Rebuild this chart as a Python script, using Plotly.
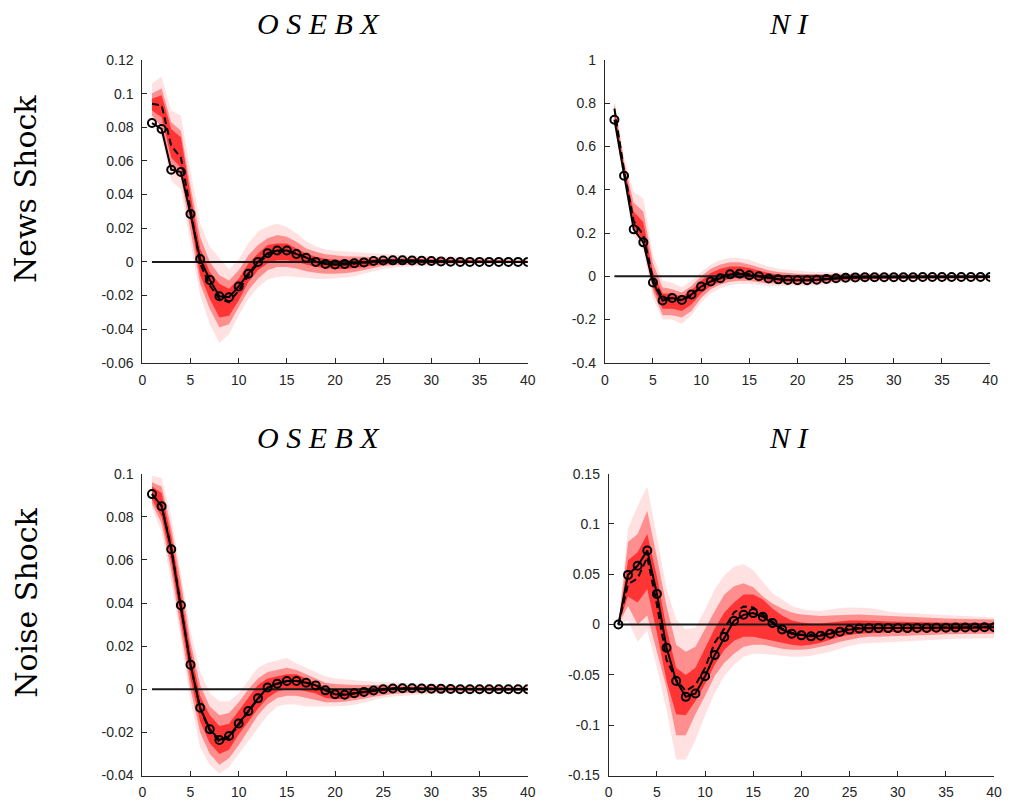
import plotly.graph_objects as go

horizons = list(range(1, 41))

# ---------------- OSEBX, news shock ----------------
on_solid = [0.0825, 0.0790, 0.0548, 0.0534, 0.0285, 0.0017, -0.0107, -0.0204, -0.0210, -0.0146,
            -0.0070, 0.0000, 0.0052, 0.0068, 0.0068, 0.0047, 0.0025, 0.0000, -0.0012, -0.0015,
            -0.0013, -0.0008, -0.0003, 0.0005, 0.0008, 0.0009, 0.0009, 0.0008, 0.0007, 0.0005,
            0.0003, 0.0001, 0.0000, 0.0000, 0.0000, 0.0000, 0.0000, 0.0000, 0.0000, 0.0000]
on_dash = [0.0940, 0.0930, 0.0690, 0.0620, 0.0310, -0.0010, -0.0140, -0.0220, -0.0240, -0.0170,
           -0.0080, -0.0010, 0.0040, 0.0060, 0.0065, 0.0050, 0.0028, 0.0005, -0.0010, -0.0015,
           -0.0015, -0.0011, -0.0005, 0.0002, 0.0006, 0.0008, 0.0008, 0.0008, 0.0007, 0.0006,
           0.0004, 0.0002, 0.0001, 0.0000, 0.0000, 0.0000, 0.0000, 0.0000, 0.0000, 0.0000]
on_u95 = [0.106, 0.110, 0.090, 0.087, 0.054, 0.023, 0.009, 0.002, -0.0045, 0.0015,
          0.011, 0.018, 0.021, 0.0227, 0.0207, 0.0169, 0.0122, 0.0093, 0.0074, 0.0066,
          0.0062, 0.0058, 0.0055, 0.005, 0.0045, 0.0042, 0.004, 0.0037, 0.0035, 0.0033,
          0.003, 0.0028, 0.0025, 0.0022, 0.002, 0.0018, 0.0017, 0.0016, 0.0015, 0.0014]
on_l95 = [0.085, 0.074, 0.048, 0.043, 0.012, -0.020, -0.037, -0.048, -0.043, -0.032,
          -0.022, -0.015, -0.0105, -0.0088, -0.0085, -0.009, -0.0095, -0.0100, -0.0102, -0.0100,
          -0.0095, -0.0085, -0.0070, -0.0055, -0.0042, -0.0035, -0.0030, -0.0027, -0.0024, -0.0021,
          -0.0019, -0.0017, -0.0015, -0.0014, -0.0013, -0.0012, -0.0011, -0.0010, -0.0010, -0.0010]
on_u90 = [0.100, 0.103, 0.083, 0.078, 0.045, 0.015, 0.000, -0.008, -0.011, -0.005,
          0.004, 0.010, 0.014, 0.016, 0.015, 0.012, 0.008, 0.006, 0.0045, 0.0038,
          0.0034, 0.0032, 0.003, 0.0029, 0.0028, 0.0027, 0.0025, 0.0023, 0.0021, 0.002,
          0.0018, 0.0016, 0.0014, 0.0013, 0.0012, 0.0011, 0.001, 0.0009, 0.0009, 0.0008]
on_l90 = [0.087, 0.080, 0.055, 0.050, 0.019, -0.013, -0.028, -0.039, -0.037, -0.027,
          -0.017, -0.010, -0.005, -0.003, -0.003, -0.004, -0.0055, -0.0065, -0.007, -0.007,
          -0.0068, -0.006, -0.0048, -0.0035, -0.0025, -0.002, -0.0017, -0.0015, -0.0013, -0.0012,
          -0.0011, -0.001, -0.0009, -0.0008, -0.0008, -0.0007, -0.0007, -0.0006, -0.0006, -0.0006]
on_u68 = [0.097, 0.099, 0.079, 0.074, 0.040, 0.008, -0.006, -0.013, -0.016, -0.010,
          -0.001, 0.005, 0.010, 0.011, 0.011, 0.008, 0.005, 0.003, 0.0018, 0.0012,
          0.001, 0.0011, 0.0014, 0.0017, 0.0019, 0.0019, 0.0018, 0.0017, 0.0015, 0.0013,
          0.0012, 0.001, 0.0009, 0.0008, 0.0007, 0.0006, 0.0006, 0.0005, 0.0005, 0.0005]
on_l68 = [0.090, 0.086, 0.062, 0.056, 0.025, -0.008, -0.022, -0.033, -0.032, -0.023,
          -0.012, -0.005, -0.001, 0.001, 0.001, 0.000, -0.0015, -0.003, -0.0038, -0.0042,
          -0.0042, -0.0038, -0.003, -0.002, -0.0013, -0.0009, -0.0007, -0.0006, -0.0005, -0.0005,
          -0.0005, -0.0004, -0.0004, -0.0004, -0.0004, -0.0003, -0.0003, -0.0003, -0.0003, -0.0003]

# ---------------- NI, news shock ----------------
nn_solid = [0.724, 0.465, 0.217, 0.157, -0.029, -0.112, -0.100, -0.109, -0.084, -0.047,
            -0.024, -0.009, 0.009, 0.012, 0.005, 0.000, -0.010, -0.014, -0.017, -0.018,
            -0.018, -0.016, -0.012, -0.009, -0.007, -0.005, -0.004, -0.004, -0.004, -0.004,
            -0.004, -0.004, -0.003, -0.003, -0.003, -0.003, -0.003, -0.003, -0.003, -0.003]
nn_dash = [0.775, 0.490, 0.255, 0.190, -0.010, -0.100, -0.100, -0.112, -0.088, -0.050,
           -0.020, 0.000, 0.012, 0.018, 0.010, 0.002, -0.008, -0.013, -0.016, -0.018,
           -0.018, -0.016, -0.012, -0.009, -0.007, -0.005, -0.004, -0.004, -0.004, -0.004,
           -0.004, -0.003, -0.003, -0.003, -0.003, -0.003, -0.003, -0.003, -0.003, -0.003]
nn_u95 = [0.820, 0.550, 0.390, 0.360, 0.100, -0.020, -0.030, -0.050, -0.020, 0.020,
          0.055, 0.075, 0.085, 0.085, 0.075, 0.060, 0.045, 0.035, 0.030, 0.025,
          0.022, 0.020, 0.019, 0.018, 0.017, 0.016, 0.015, 0.014, 0.013, 0.012,
          0.012, 0.011, 0.010, 0.010, 0.009, 0.009, 0.008, 0.008, 0.008, 0.008]
nn_l95 = [0.700, 0.440, 0.190, 0.120, -0.100, -0.200, -0.200, -0.220, -0.180, -0.120,
          -0.080, -0.055, -0.040, -0.035, -0.035, -0.040, -0.045, -0.045, -0.045, -0.045,
          -0.044, -0.042, -0.038, -0.033, -0.028, -0.025, -0.022, -0.020, -0.019, -0.018,
          -0.017, -0.016, -0.016, -0.015, -0.015, -0.015, -0.014, -0.014, -0.014, -0.014]
nn_u90 = [0.800, 0.530, 0.340, 0.300, 0.060, -0.050, -0.060, -0.075, -0.045, 0.000,
          0.035, 0.055, 0.065, 0.065, 0.055, 0.040, 0.028, 0.020, 0.015, 0.012,
          0.011, 0.010, 0.010, 0.010, 0.010, 0.009, 0.009, 0.008, 0.008, 0.007,
          0.007, 0.007, 0.006, 0.006, 0.006, 0.005, 0.005, 0.005, 0.005, 0.005]
nn_l90 = [0.720, 0.460, 0.210, 0.145, -0.070, -0.180, -0.180, -0.190, -0.160, -0.100,
          -0.060, -0.038, -0.025, -0.020, -0.022, -0.028, -0.032, -0.035, -0.035, -0.035,
          -0.034, -0.032, -0.029, -0.025, -0.021, -0.018, -0.016, -0.015, -0.014, -0.013,
          -0.013, -0.012, -0.012, -0.011, -0.011, -0.011, -0.011, -0.010, -0.010, -0.010]
nn_u68 = [0.780, 0.510, 0.300, 0.250, 0.020, -0.080, -0.080, -0.095, -0.065, -0.020,
          0.015, 0.035, 0.045, 0.045, 0.038, 0.025, 0.015, 0.008, 0.004, 0.002,
          0.002, 0.002, 0.003, 0.003, 0.003, 0.003, 0.003, 0.002, 0.002, 0.002,
          0.002, 0.002, 0.001, 0.001, 0.001, 0.001, 0.001, 0.001, 0.001, 0.001]
nn_l68 = [0.740, 0.480, 0.230, 0.165, -0.050, -0.150, -0.150, -0.160, -0.130, -0.080,
          -0.045, -0.025, -0.010, -0.008, -0.010, -0.015, -0.022, -0.026, -0.028, -0.028,
          -0.027, -0.025, -0.022, -0.019, -0.016, -0.013, -0.012, -0.011, -0.010, -0.010,
          -0.009, -0.009, -0.008, -0.008, -0.008, -0.008, -0.007, -0.007, -0.007, -0.007]

# ---------------- OSEBX, noise shock ----------------
oo_solid = [0.0905, 0.0849, 0.0649, 0.0390, 0.0114, -0.0086, -0.0185, -0.0235, -0.0217, -0.0159,
            -0.0101, -0.0042, 0.0008, 0.0026, 0.0038, 0.0038, 0.0030, 0.0018, -0.0005, -0.0023,
            -0.0025, -0.0018, -0.0012, -0.0006, 0.0000, 0.0004, 0.0005, 0.0005, 0.0004, 0.0003,
            0.0002, 0.0001, 0.0000, 0.0000, 0.0000, 0.0000, 0.0000, 0.0000, 0.0000, 0.0000]
oo_dash = [0.0905, 0.0852, 0.0655, 0.0395, 0.0115, -0.0090, -0.0192, -0.0242, -0.0225, -0.0165,
           -0.0105, -0.0045, 0.0007, 0.0026, 0.0038, 0.0039, 0.0031, 0.0018, -0.0004, -0.0022,
           -0.0024, -0.0018, -0.0012, -0.0006, 0.0000, 0.0004, 0.0005, 0.0005, 0.0004, 0.0003,
           0.0002, 0.0001, 0.0000, 0.0000, 0.0000, 0.0000, 0.0000, 0.0000, 0.0000, 0.0000]
oo_u95 = [0.099, 0.098, 0.080, 0.054, 0.027, 0.008, -0.002, -0.0055, -0.0055, -0.002,
          0.004, 0.010, 0.0123, 0.0135, 0.0145, 0.012, 0.010, 0.008, 0.006, 0.005,
          0.0045, 0.004, 0.0038, 0.0035, 0.0033, 0.003, 0.0028, 0.0026, 0.0024, 0.0022,
          0.002, 0.0019, 0.0018, 0.0017, 0.0016, 0.0015, 0.0014, 0.0013, 0.0012, 0.0012]
oo_l95 = [0.084, 0.073, 0.050, 0.023, -0.005, -0.027, -0.035, -0.039, -0.036, -0.030,
          -0.024, -0.018, -0.012, -0.008, -0.007, -0.007, -0.008, -0.008, -0.008, -0.008,
          -0.0078, -0.0072, -0.0062, -0.005, -0.004, -0.0034, -0.003, -0.0027, -0.0024, -0.0022,
          -0.002, -0.0018, -0.0016, -0.0015, -0.0014, -0.0013, -0.0012, -0.0011, -0.001, -0.001]
oo_u90 = [0.096, 0.094, 0.075, 0.050, 0.022, 0.002, -0.008, -0.012, -0.011, -0.006,
          0.000, 0.005, 0.008, 0.009, 0.010, 0.009, 0.007, 0.005, 0.003, 0.0025,
          0.0022, 0.002, 0.002, 0.002, 0.002, 0.0019, 0.0018, 0.0017, 0.0016, 0.0015,
          0.0014, 0.0013, 0.0012, 0.0011, 0.001, 0.001, 0.0009, 0.0009, 0.0008, 0.0008]
oo_l90 = [0.086, 0.077, 0.055, 0.028, 0.000, -0.020, -0.030, -0.035, -0.032, -0.026,
          -0.019, -0.012, -0.007, -0.004, -0.003, -0.003, -0.004, -0.005, -0.006, -0.006,
          -0.0058, -0.0052, -0.0044, -0.0035, -0.0027, -0.0022, -0.0018, -0.0016, -0.0014, -0.0013,
          -0.0012, -0.0011, -0.001, -0.0009, -0.0009, -0.0008, -0.0008, -0.0007, -0.0007, -0.0007]
oo_u68 = [0.094, 0.091, 0.071, 0.045, 0.018, -0.003, -0.012, -0.017, -0.016, -0.010,
          -0.004, 0.002, 0.005, 0.006, 0.007, 0.007, 0.005, 0.003, 0.001, 0.000,
          -0.0002, 0.0000, 0.0004, 0.0008, 0.001, 0.0011, 0.0011, 0.001, 0.001, 0.0009,
          0.0008, 0.0007, 0.0006, 0.0006, 0.0005, 0.0005, 0.0004, 0.0004, 0.0004, 0.0004]
oo_l68 = [0.088, 0.080, 0.059, 0.033, 0.005, -0.015, -0.025, -0.030, -0.028, -0.021,
          -0.015, -0.009, -0.004, -0.001, 0.000, 0.000, -0.001, -0.002, -0.004, -0.0045,
          -0.0045, -0.0038, -0.003, -0.002, -0.0012, -0.0006, -0.0003, -0.0002, -0.0002, -0.0002,
          -0.0002, -0.0002, -0.0002, -0.0002, -0.0002, -0.0002, -0.0002, -0.0002, -0.0002, -0.0002]

# ---------------- NI, noise shock ----------------
no_solid = [0.000, 0.0494, 0.0584, 0.0737, 0.0305, -0.0230, -0.0560, -0.0718, -0.0685, -0.0513,
            -0.0302, -0.0124, 0.0039, 0.0097, 0.0114, 0.0078, 0.0016, -0.0049, -0.0091, -0.0107,
            -0.0117, -0.0110, -0.0090, -0.0070, -0.0050, -0.0040, -0.0036, -0.0035, -0.0035, -0.0035,
            -0.0035, -0.0034, -0.0033, -0.0032, -0.0031, -0.0030, -0.0029, -0.0028, -0.0027, -0.0026]
no_dash = [0.000, 0.040, 0.046, 0.067, 0.020, -0.035, -0.055, -0.066, -0.060, -0.043,
           -0.018, -0.004, 0.012, 0.018, 0.017, 0.010, 0.003, -0.004, -0.008, -0.010,
           -0.010, -0.010, -0.008, -0.006, -0.004, -0.0035, -0.0033, -0.0033, -0.0033, -0.0033,
           -0.0033, -0.0032, -0.0031, -0.003, -0.003, -0.0029, -0.0028, -0.0027, -0.0026, -0.0025]
no_u95 = [0.000, 0.095, 0.118, 0.137, 0.087, 0.036, 0.005, -0.005, -0.003, 0.015,
          0.035, 0.049, 0.0575, 0.060, 0.054, 0.043, 0.031, 0.025, 0.0185, 0.0155,
          0.014, 0.0136, 0.015, 0.0165, 0.017, 0.017, 0.0165, 0.015, 0.013, 0.012,
          0.0115, 0.011, 0.0105, 0.0095, 0.009, 0.0085, 0.008, 0.0077, 0.0073, 0.007]
no_l95 = [0.000, 0.004, -0.017, -0.006, -0.043, -0.085, -0.134, -0.134, -0.115, -0.090,
          -0.068, -0.051, -0.040, -0.032, -0.029, -0.029, -0.030, -0.031, -0.032, -0.032,
          -0.031, -0.029, -0.027, -0.024, -0.021, -0.019, -0.018, -0.0175, -0.017, -0.017,
          -0.0165, -0.016, -0.0155, -0.015, -0.0145, -0.014, -0.014, -0.0135, -0.0135, -0.0135]
no_u90 = [0.000, 0.082, 0.090, 0.113, 0.067, 0.0185, -0.020, -0.027, -0.022, -0.004,
          0.0136, 0.030, 0.038, 0.041, 0.037, 0.028, 0.021, 0.016, 0.012, 0.010,
          0.009, 0.0085, 0.009, 0.0095, 0.010, 0.010, 0.0095, 0.009, 0.0085, 0.008,
          0.0075, 0.007, 0.0068, 0.0065, 0.006, 0.0058, 0.0055, 0.0052, 0.005, 0.005]
no_l90 = [0.000, 0.0185, 0.000, 0.009, -0.027, -0.063, -0.110, -0.110, -0.089, -0.071,
          -0.051, -0.038, -0.029, -0.022, -0.020, -0.020, -0.022, -0.024, -0.025, -0.025,
          -0.024, -0.022, -0.020, -0.017, -0.015, -0.013, -0.012, -0.012, -0.0115, -0.011,
          -0.011, -0.0105, -0.010, -0.010, -0.0095, -0.0095, -0.009, -0.009, -0.009, -0.009]
no_u68 = [0.000, 0.064, 0.072, 0.090, 0.048, -0.004, -0.043, -0.050, -0.043, -0.024,
          -0.004, 0.012, 0.022, 0.030, 0.030, 0.025, 0.016, 0.009, 0.004, 0.002,
          0.001, 0.001, 0.002, 0.003, 0.004, 0.004, 0.004, 0.0035, 0.003, 0.003,
          0.0028, 0.0026, 0.0024, 0.0022, 0.002, 0.002, 0.0018, 0.0017, 0.0016, 0.0015]
no_l68 = [0.000, 0.028, 0.022, 0.035, -0.008, -0.056, -0.089, -0.090, -0.076, -0.059,
          -0.040, -0.025, -0.016, -0.012, -0.012, -0.014, -0.016, -0.018, -0.020, -0.021,
          -0.020, -0.018, -0.015, -0.012, -0.010, -0.009, -0.008, -0.008, -0.0075, -0.007,
          -0.007, -0.0068, -0.0066, -0.0064, -0.0062, -0.006, -0.006, -0.0058, -0.0056, -0.0055]

# ---------------- tick definitions ----------------
x_tickvals = [0, 5, 10, 15, 20, 25, 30, 35, 40]
x_ticktext = ["0", "5", "10", "15", "20", "25", "30", "35", "40"]
y1_tickvals = [-0.06, -0.04, -0.02, 0, 0.02, 0.04, 0.06, 0.08, 0.1, 0.12]
y1_ticktext = ["-0.06", "-0.04", "-0.02", "0", "0.02", "0.04", "0.06", "0.08", "0.1", "0.12"]
y2_tickvals = [-0.4, -0.2, 0, 0.2, 0.4, 0.6, 0.8, 1]
y2_ticktext = ["-0.4", "-0.2", "0", "0.2", "0.4", "0.6", "0.8", "1"]
y3_tickvals = [-0.04, -0.02, 0, 0.02, 0.04, 0.06, 0.08, 0.1]
y3_ticktext = ["-0.04", "-0.02", "0", "0.02", "0.04", "0.06", "0.08", "0.1"]
y4_tickvals = [-0.15, -0.1, -0.05, 0, 0.05, 0.1, 0.15]
y4_ticktext = ["-0.15", "-0.1", "-0.05", "0", "0.05", "0.1", "0.15"]

panel_titles = ["O S E B X", "N I", "O S E B X", "N I"]
row_labels = ["News Shock", "Noise Shock"]

LIGHT = "#FFE1E1"
MEDIUM = "#FF8F8F"
DARK = "#FF3535"
AXC = "#262626"

panels = [
    dict(ax="", solid=on_solid, dash=on_dash, bands=[(on_u95, on_l95), (on_u90, on_l90), (on_u68, on_l68)],
         yr=[-0.06, 0.12], tv=y1_tickvals, tt=y1_ticktext, xd=[140, 530], yd=[53, 362]),
    dict(ax="2", solid=nn_solid, dash=nn_dash, bands=[(nn_u95, nn_l95), (nn_u90, nn_l90), (nn_u68, nn_l68)],
         yr=[-0.4, 1.0], tv=y2_tickvals, tt=y2_ticktext, xd=[608, 998], yd=[53, 362]),
    dict(ax="3", solid=oo_solid, dash=oo_dash, bands=[(oo_u95, oo_l95), (oo_u90, oo_l90), (oo_u68, oo_l68)],
         yr=[-0.04, 0.10], tv=y3_tickvals, tt=y3_ticktext, xd=[140, 530], yd=[475, 783]),
    dict(ax="4", solid=no_solid, dash=no_dash, bands=[(no_u95, no_l95), (no_u90, no_l90), (no_u68, no_l68)],
         yr=[-0.15, 0.15], tv=y4_tickvals, tt=y4_ticktext, xd=[612, 1002], yd=[475, 783]),
]

# The page body margin is removed (post_script below), so the figure fills the window.
W, H = 1011, 811


def fx(px):
    return px / W


def fy(py):
    return 1 - py / H


fig = go.Figure()
zeros = [0.0 for _ in horizons]

for p in panels:
    xa = "x" + p["ax"]
    ya = "y" + p["ax"]
    for (up, lo), col in zip(p["bands"], [LIGHT, MEDIUM, DARK]):
        fig.add_trace(go.Scatter(
            x=horizons + horizons[::-1], y=up + lo[::-1], fill="toself", fillcolor=col,
            line=dict(width=0, color=col), mode="lines", xaxis=xa, yaxis=ya,
            hoverinfo="skip", showlegend=False))
    fig.add_trace(go.Scatter(x=horizons, y=zeros, mode="lines", line=dict(color="#1a1a1a", width=2),
                             xaxis=xa, yaxis=ya, showlegend=False, hoverinfo="skip"))
    fig.add_trace(go.Scatter(x=horizons, y=p["dash"], mode="lines",
                             line=dict(color="black", width=2, dash="7px,4px"),
                             xaxis=xa, yaxis=ya, showlegend=False))
    fig.add_trace(go.Scatter(x=horizons, y=p["solid"], mode="lines+markers",
                             line=dict(color="black", width=2),
                             marker=dict(symbol="circle-open", size=8, color="black", line=dict(width=2)),
                             xaxis=xa, yaxis=ya, showlegend=False))

    axis_common = dict(showline=True, linecolor=AXC, linewidth=1, ticks="inside", ticklen=5,
                       tickcolor=AXC, tickwidth=1, showgrid=False, zeroline=False, mirror=False,
                       tickfont=dict(family="Liberation Sans, Arial", size=14, color=AXC))
    xd = [fx(p["xd"][0]), fx(p["xd"][1])]
    yd = [fy(p["yd"][1]), fy(p["yd"][0])]
    fig.update_layout(**{
        "xaxis" + p["ax"]: dict(domain=xd, range=[0, 40], tickvals=x_tickvals, ticktext=x_ticktext,
                                 anchor=ya, ticklabelstandoff=4, **axis_common),
        "yaxis" + p["ax"]: dict(domain=yd, range=p["yr"], tickvals=p["tv"], ticktext=p["tt"],
                                 anchor=xa, ticklabelstandoff=5, **axis_common),
    })

annotations = []
title_pos = [(318, 16), (795, 16), (318, 438), (795, 438)]
for t, (tx, ty) in zip(panel_titles, title_pos):
    annotations.append(dict(text="<i>" + t + "</i>", x=fx(tx), y=fy(ty), xref="paper", yref="paper",
                            showarrow=False, xanchor="center", yanchor="middle",
                            font=dict(family="Liberation Serif", size=30, color="black")))
for lab, cy in zip(row_labels, [185, 607]):
    annotations.append(dict(text=lab, x=fx(22), y=fy(cy), xref="paper", yref="paper",
                            showarrow=False, xanchor="center", yanchor="middle", textangle=-90,
                            borderpad=0,
                            font=dict(family="DejaVu Serif", size=30, color="black")))

fig.update_layout(width=W, height=H, margin=dict(l=0, r=0, t=0, b=0),
                  plot_bgcolor="white", paper_bgcolor="white", showlegend=False,
                  annotations=annotations)

fig.write_html("out.html", config={"displayModeBar": False},
               post_script="document.body.style.margin='0px';document.body.style.padding='0px';"
                           "document.body.style.overflow='hidden';")
